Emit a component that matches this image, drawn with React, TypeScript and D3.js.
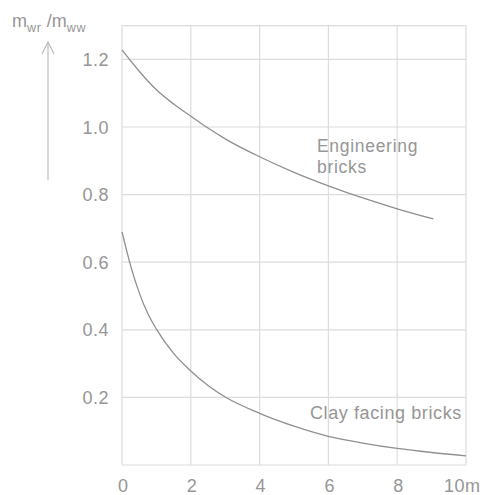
import React from "react";
import * as d3 from "d3";

const xTicks = [0, 2, 4, 6, 8, 10];
const xTickLabels = ["0", "2", "4", "6", "8", "10m"];
const yTicks = [0.2, 0.4, 0.6, 0.8, 1.0, 1.2];
const yTickLabels = ["0.2", "0.4", "0.6", "0.8", "1.0", "1.2"];

const engX = [0, 0.5, 1, 1.5, 2, 2.5, 3, 4, 5, 6, 7, 8, 9.05];
const engY = [1.228, 1.165, 1.11, 1.068, 1.032, 0.997, 0.965, 0.912, 0.866, 0.826, 0.79, 0.758, 0.728];

const clayX = [0, 0.25, 0.5, 0.75, 1, 1.5, 2, 2.5, 3, 4, 5, 6, 7, 8, 9, 10];
const clayY = [0.69, 0.59, 0.51, 0.448, 0.402, 0.33, 0.278, 0.235, 0.201, 0.153, 0.115, 0.085, 0.065, 0.049, 0.037, 0.027];

const engLabel = ["Engineering", "bricks"];
const clayLabel = "Clay facing bricks";

export default function App() {
  const W = 485, H = 495;
  const x = d3.scaleLinear().domain([0, 10]).range([122, 466]);
  const y = d3.scaleLinear().domain([0, 1.3]).range([465, 25.6]);
  const line = d3.line<[number, number]>().x(d => x(d[0])).y(d => y(d[1])).curve(d3.curveMonotoneX);
  const eng = engX.map((v, i) => [v, engY[i]] as [number, number]);
  const clay = clayX.map((v, i) => [v, clayY[i]] as [number, number]);
  const grid = "#dcdcdc";
  const txt = "#969696";
  const font = "'Liberation Sans', Arial, sans-serif";
  return (
    <svg width={W} height={H} style={{ position: "absolute", left: 0, top: 0, background: "#fff" }} fontFamily={font}>
      {xTicks.map(t => (
        <line key={"gx" + t} x1={x(t)} x2={x(t)} y1={y(1.3)} y2={y(0)} stroke={grid} strokeWidth={1.2} />
      ))}
      {yTicks.concat([0, 1.3]).map(t => (
        <line key={"gy" + t} x1={x(0)} x2={x(10)} y1={y(t)} y2={y(t)} stroke={grid} strokeWidth={1.2} />
      ))}
      <path d={line(eng) || ""} fill="none" stroke="#8f8f8f" strokeWidth={1.3} />
      <path d={line(clay) || ""} fill="none" stroke="#8f8f8f" strokeWidth={1.3} />
      {yTicks.map((t, i) => (
        <text key={"yl" + t} x={109} y={y(t) + 6.5} textAnchor="end" fontSize={18} letterSpacing={0.5} fill={txt}>{yTickLabels[i]}</text>
      ))}
      {xTicks.map((t, i) => (
        i === xTicks.length - 1 ?
          <text key={"xl" + t} x={444} y={492} textAnchor="start" fontSize={18} letterSpacing={0.5} fill={txt}>{xTickLabels[i]}</text> :
          <text key={"xl" + t} x={x(t) + 1} y={492} textAnchor="middle" fontSize={18} fill={txt}>{xTickLabels[i]}</text>
      ))}
      <text x={317} y={152} fontSize={17.5} letterSpacing={0.7} fill={txt}>{engLabel[0]}</text>
      <text x={317} y={173} fontSize={17.5} letterSpacing={0.7} fill={txt}>{engLabel[1]}</text>
      <text x={310} y={419} fontSize={18} letterSpacing={0.6} fill={txt}>{clayLabel}</text>
      <text x={12} y={27} fontSize={18} fill={txt}>
        m<tspan fontSize={12.5} dy={5} letterSpacing={0.8}>wr</tspan><tspan dy={-5}> /m</tspan><tspan fontSize={12.5} dy={5} letterSpacing={0.8}>ww</tspan>
      </text>
      <line x1={48} x2={48} y1={42} y2={180} stroke="#b8b8b8" strokeWidth={1.1} />
      <path d="M42,54 L48,42 L54,54" fill="none" stroke="#b8b8b8" strokeWidth={1.1} />
    </svg>
  );
}
